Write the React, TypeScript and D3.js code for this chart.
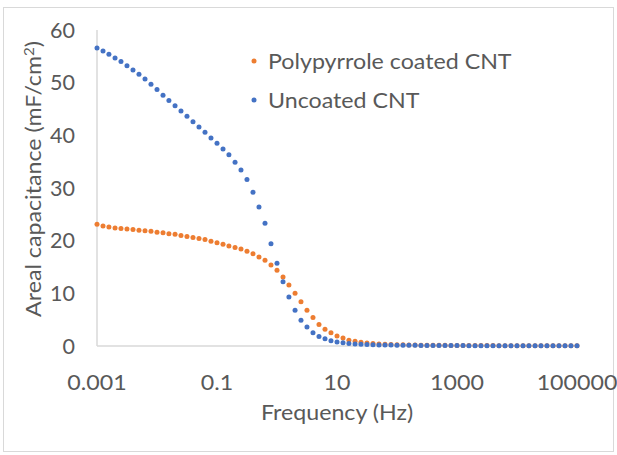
import React from "react";
import * as d3 from "d3";

// Frequency sweep (Hz), 10 points per decade
const frequency = [
  1e-3, 1.26e-3, 1.58e-3, 2e-3, 2.51e-3, 3.16e-3, 3.98e-3, 5.01e-3, 6.31e-3, 7.94e-3,
  1e-2, 1.26e-2, 1.58e-2, 2e-2, 2.51e-2, 3.16e-2, 3.98e-2, 5.01e-2, 6.31e-2, 7.94e-2,
  1e-1, 1.26e-1, 1.58e-1, 2e-1, 2.51e-1, 3.16e-1, 3.98e-1, 5.01e-1, 6.31e-1, 7.94e-1,
  1, 1.26, 1.58, 2, 2.51, 3.16, 3.98, 5.01, 6.31, 7.94,
  10, 12.6, 15.8, 20, 25.1, 31.6, 39.8, 50.1, 63.1, 79.4,
  100, 126, 158, 200, 251, 316, 398, 501, 631, 794,
  1000, 1260, 1580, 2000, 2510, 3160, 3980, 5010, 6310, 7940,
  10000, 12600, 15800, 20000, 25100, 31600, 39800, 50100, 63100, 79400,
  100000,
];

// Areal capacitance (mF/cm²)
const coatedCNT = [
  23.1, 22.8, 22.6, 22.4, 22.3, 22.2, 22.1, 22.0, 21.9, 21.8,
  21.6, 21.5, 21.3, 21.2, 21.0, 20.8, 20.6, 20.4, 20.2, 19.9,
  19.6, 19.3, 19.0, 18.7, 18.4, 18.0, 17.5, 16.9, 16.3, 15.4,
  14.4, 13.1, 11.6, 10.0, 8.4, 6.8, 5.4, 4.1, 3.2, 2.5,
  1.9, 1.5, 1.1, 0.9, 0.7, 0.57, 0.48, 0.4, 0.34, 0.3,
  0.26, 0.23, 0.2, 0.18, 0.16, 0.15, 0.14, 0.13, 0.12, 0.11,
  0.1, 0.1, 0.09, 0.09, 0.08, 0.08, 0.08, 0.07, 0.07, 0.07,
  0.07, 0.06, 0.06, 0.06, 0.06, 0.06, 0.06, 0.05, 0.05, 0.05,
  0.05,
];

const uncoatedCNT = [
  56.6, 56.0, 55.4, 54.7, 54.0, 53.2, 52.4, 51.6, 50.7, 49.7,
  48.7, 47.6, 46.6, 45.6, 44.6, 43.6, 42.6, 41.6, 40.6, 39.5,
  38.5, 37.4, 36.3, 34.9, 33.4, 31.6, 29.2, 26.4, 23.3, 19.4,
  15.7, 12.2, 9.3, 6.8, 4.9, 3.6, 2.5, 1.8, 1.4, 1.0,
  0.76, 0.6, 0.48, 0.4, 0.33, 0.28, 0.24, 0.21, 0.19, 0.17,
  0.15, 0.14, 0.13, 0.12, 0.11, 0.1, 0.1, 0.09, 0.09, 0.08,
  0.08, 0.08, 0.07, 0.07, 0.07, 0.07, 0.06, 0.06, 0.06, 0.06,
  0.06, 0.05, 0.05, 0.05, 0.05, 0.05, 0.05, 0.05, 0.05, 0.05,
  0.05,
];

const xTicks = [0.001, 0.1, 10, 1000, 100000];
const xTickLabels = ["0.001", "0.1", "10", "1000", "100000"];
const yTicks = [0, 10, 20, 30, 40, 50, 60];

const seriesNames = ["Polypyrrole coated CNT", "Uncoated CNT"];
const seriesColors = ["#ED7D31", "#4472C4"];

const W = 617;
const H = 455;
const FONT = "Lato, 'Open Sans', sans-serif";
const FS = 21.5;
const SX = 1.08;
const TEXT = "#595959";

function Label({ x, y, anchor = "start", sx = SX, children }: { x: number; y: number; anchor?: string; sx?: number; children: React.ReactNode }) {
  return (
    <text
      transform={`translate(${x},${y}) scale(${sx},1)`}
      dy="0.35em"
      textAnchor={anchor}
      fontFamily={FONT}
      fontSize={FS}
      fill={TEXT}
    >
      {children}
    </text>
  );
}

export default function App() {
  const x = d3.scaleLog().domain([0.001, 100000]).range([97, 577]);
  const y = d3.scaleLinear().domain([0, 60]).range([346, 30]);
  const series = [coatedCNT, uncoatedCNT];

  return (
    <div style={{ position: "fixed", left: 0, top: 0 }}>
      <svg width={W} height={H} style={{ display: "block", background: "#fff" }}>
        <rect x={3.5} y={7.5} width={610} height={444} fill="#fff" stroke="#d9d9d9" />
        {/* axes */}
        <line x1={x(0.001)} x2={x(0.001)} y1={y(60)} y2={y(0)} stroke="#d9d9d9" strokeWidth={1.5} />
        <line x1={x(0.001)} x2={x(100000)} y1={y(0)} y2={y(0)} stroke="#d9d9d9" strokeWidth={1.5} />
        {yTicks.map((t) => (
          <Label key={t} x={75} y={y(t)} anchor="end" sx={1}>
            {t}
          </Label>
        ))}
        {xTicks.map((t, i) => (
          <Label key={t} x={x(t)} y={382} anchor="middle">
            {xTickLabels[i]}
          </Label>
        ))}
        <Label x={337} y={412} anchor="middle">
          Frequency (Hz)
        </Label>
        <text
          transform={`translate(33,179) rotate(-90) scale(${SX},1)`}
          dy="0.35em"
          textAnchor="middle"
          fontFamily={FONT}
          fontSize={FS}
          fill={TEXT}
        >
          Areal capacitance (mF/cm
          <tspan dy="-7" fontSize={14}>2</tspan>
          <tspan dy="7">)</tspan>
        </text>
        {/* data */}
        {series.map((vals, s) => (
          <g key={s} fill={seriesColors[s]}>
            {vals.map((v, i) => (
              <circle key={i} cx={x(frequency[i])} cy={y(v)} r={2.5} />
            ))}
          </g>
        ))}
        {/* legend */}
        {seriesNames.map((name, i) => (
          <g key={name}>
            <circle cx={254} cy={61 + i * 39} r={2.5} fill={seriesColors[i]} />
            <Label x={268} y={61 + i * 39}>
              {name}
            </Label>
          </g>
        ))}
      </svg>
    </div>
  );
}
